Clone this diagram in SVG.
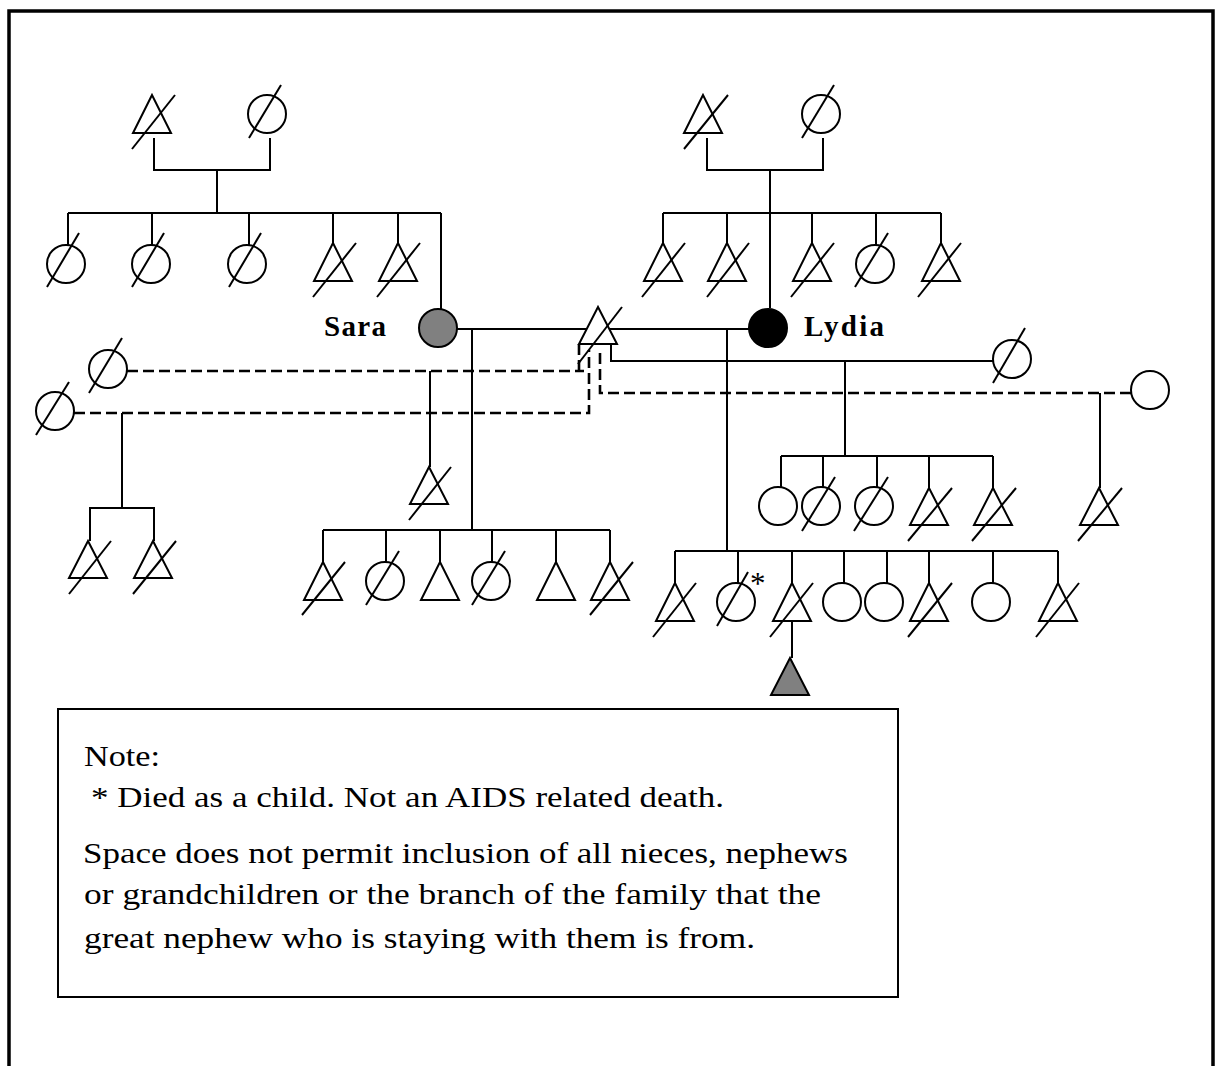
<svg xmlns="http://www.w3.org/2000/svg" width="1222" height="1066" viewBox="0 0 1222 1066">
<style>
.n{fill:#fff;stroke:#000;stroke-width:2}
.gray{fill:#808080}
.blk{fill:#000}
.s{stroke:#000;stroke-width:2;fill:none}
.c{stroke:#000;stroke-width:2;fill:none}
.dash{stroke:#000;stroke-width:2.6;fill:none;stroke-dasharray:11 5}
.t{font-family:"Liberation Serif","Times New Roman",serif;fill:#000}
.b{font-weight:bold;font-size:29px}
.note{font-size:29px}
</style>
<rect x="0" y="0" width="1222" height="1066" fill="#fff"/>
<path d="M9,1066 V11 H1213 V1066" fill="none" stroke="#000" stroke-width="3.5"/>

<g id="connectors">
  <path class="c" d="M154,138 V170 H270 V138 M217,170 V213 M68,213 H441 M68,213 V245 M152,213 V245 M249,213 V245 M333,213 V243 M398,213 V243 M441,213 V309"/>
  <path class="c" d="M707,138 V170 H823 V138 M770,170 V308 M663,213 H941 M663,213 V243 M727,213 V243 M812,213 V243 M876,213 V245 M941,213 V243"/>
  <path class="c" d="M457,329 H587 M609,329 H749"/>
  <path class="c" d="M472,329 V530 M323,530 H610 M323,530 V562 M386,530 V562 M440,530 V562 M492,530 V562 M556,530 V562 M610,530 V562"/>
  <path class="c" d="M727,329 V551 M675,551 H1058 M675,551 V583 M738,551 V583 M792,551 V583 M844,551 V583 M887,551 V583 M929,551 V583 M993,551 V583 M1058,551 V583"/>
  <path class="c" d="M792,612 V658"/>
  <path class="c" d="M611,344 V361 H993 M845,361 V456 M781,456 H993 M781,456 V488 M823,456 V488 M877,456 V488 M929,456 V488 M993,456 V488"/>
  <path class="c" d="M1100,393 V488"/>
  <path class="c" d="M430,371 V467"/>
  <path class="c" d="M122,413 V508 M90,541 V508 H154 V541"/>
  <path class="dash" d="M1131,393 H600 V350"/>
  <path class="dash" d="M127,371 H584 M579,371 V341"/>
  <path class="dash" d="M74,413 H589 V350"/>
</g>

<g id="gp-left-m"><polygon class="n" points="152,95 133,133 171,133"/><line class="s" x1="132" y1="149" x2="175" y2="95"/></g>
<g id="gp-left-f"><circle class="n" cx="267" cy="114" r="19"/><line class="s" x1="249" y1="138" x2="281" y2="85"/></g>
<g id="sib-l1"><circle class="n" cx="66" cy="264" r="19"/><line class="s" x1="47" y1="287" x2="79" y2="233"/></g>
<g id="sib-l2"><circle class="n" cx="151" cy="264" r="19"/><line class="s" x1="132" y1="287" x2="164" y2="233"/></g>
<g id="sib-l3"><circle class="n" cx="247" cy="264" r="19"/><line class="s" x1="229" y1="287" x2="261" y2="233"/></g>
<g id="sib-l4"><polygon class="n" points="333,243 314,281 352,281"/><line class="s" x1="313" y1="297" x2="356" y2="243"/></g>
<g id="sib-l5"><polygon class="n" points="398,243 379,281 417,281"/><line class="s" x1="377" y1="297" x2="420" y2="243"/></g>

<g id="gp-right-m"><polygon class="n" points="703,95 684,133 722,133"/><line class="s" x1="684" y1="149" x2="728" y2="95"/></g>
<g id="gp-right-f"><circle class="n" cx="821" cy="114" r="19"/><line class="s" x1="802" y1="138" x2="834" y2="85"/></g>
<g id="sib-r1"><polygon class="n" points="663,243 644,281 682,281"/><line class="s" x1="642" y1="297" x2="685" y2="243"/></g>
<g id="sib-r2"><polygon class="n" points="727,243 708,281 746,281"/><line class="s" x1="707" y1="297" x2="749" y2="243"/></g>
<g id="sib-r3"><polygon class="n" points="812,243 793,281 831,281"/><line class="s" x1="791" y1="297" x2="834" y2="243"/></g>
<g id="sib-r4"><circle class="n" cx="875" cy="264" r="19"/><line class="s" x1="855" y1="287" x2="888" y2="233"/></g>
<g id="sib-r5"><polygon class="n" points="941,243 922,281 960,281"/><line class="s" x1="918" y1="297" x2="961" y2="243"/></g>

<g id="sara"><ellipse class="n gray" cx="438" cy="328" rx="19" ry="19"/><text class="t b" x="324" y="336" textLength="62">Sara</text></g>
<g id="lydia"><ellipse class="n blk" cx="768" cy="328" rx="19" ry="19"/><text class="t b" x="804" y="336" textLength="80">Lydia</text></g>
<g id="husband"><polygon class="n" points="598,307 579,344 617,344"/><line class="s" x1="578" y1="364" x2="622" y2="307"/></g>

<g id="wife-ul"><circle class="n" cx="108" cy="369" r="19"/><line class="s" x1="89" y1="393" x2="122" y2="338"/></g>
<g id="wife-ll"><circle class="n" cx="55" cy="411" r="19"/><line class="s" x1="36" y1="435" x2="69" y2="382"/></g>
<g id="wife-r1"><circle class="n" cx="1012" cy="359" r="19"/><line class="s" x1="993" y1="383" x2="1025" y2="328"/></g>
<g id="wife-r2"><circle class="n" cx="1150" cy="390" r="19"/></g>

<g id="ll-c1"><polygon class="n" points="88,541 69,578 107,578"/><line class="s" x1="69" y1="594" x2="111" y2="541"/></g>
<g id="ll-c2"><polygon class="n" points="153,541 134,578 172,578"/><line class="s" x1="133" y1="594" x2="176" y2="541"/></g>
<g id="ul-c1"><polygon class="n" points="429,467 410,504 448,504"/><line class="s" x1="409" y1="520" x2="451" y2="467"/></g>

<g id="sara-c1"><polygon class="n" points="323,562 304,600 342,600"/><line class="s" x1="302" y1="615" x2="345" y2="562"/></g>
<g id="sara-c2"><circle class="n" cx="385" cy="581" r="19"/><line class="s" x1="366" y1="605" x2="399" y2="551"/></g>
<g id="sara-c3"><polygon class="n" points="440,562 421,600 459,600"/></g>
<g id="sara-c4"><circle class="n" cx="491" cy="581" r="19"/><line class="s" x1="472" y1="605" x2="505" y2="551"/></g>
<g id="sara-c5"><polygon class="n" points="556,562 537,600 575,600"/></g>
<g id="sara-c6"><polygon class="n" points="610,562 591,600 629,600"/><line class="s" x1="590" y1="615" x2="633" y2="562"/></g>

<g id="w1-c1"><circle class="n" cx="778" cy="506" r="19"/></g>
<g id="w1-c2"><circle class="n" cx="821" cy="506" r="19"/><line class="s" x1="802" y1="531" x2="835" y2="477"/></g>
<g id="w1-c3"><circle class="n" cx="874" cy="506" r="19"/><line class="s" x1="854" y1="531" x2="888" y2="477"/></g>
<g id="w1-c4"><polygon class="n" points="929,488 910,525 948,525"/><line class="s" x1="908" y1="541" x2="952" y2="488"/></g>
<g id="w1-c5"><polygon class="n" points="993,488 974,525 1012,525"/><line class="s" x1="972" y1="541" x2="1016" y2="488"/></g>
<g id="w2-c1"><polygon class="n" points="1099,488 1080,525 1118,525"/><line class="s" x1="1078" y1="541" x2="1122" y2="488"/></g>

<g id="ly-c1"><polygon class="n" points="675,583 656,621 694,621"/><line class="s" x1="653" y1="637" x2="696" y2="583"/></g>
<g id="ly-c2"><circle class="n" cx="736" cy="602" r="19"/><line class="s" x1="717" y1="626" x2="748" y2="572"/><text class="t" x="750" y="594" font-size="31">*</text></g>
<g id="ly-c3"><polygon class="n" points="792,583 773,621 811,621"/><line class="s" x1="770" y1="637" x2="813" y2="583"/></g>
<g id="ly-c4"><circle class="n" cx="842" cy="602" r="19"/></g>
<g id="ly-c5"><circle class="n" cx="884" cy="602" r="19"/></g>
<g id="ly-c6"><polygon class="n" points="929,583 910,621 948,621"/><line class="s" x1="908" y1="637" x2="952" y2="583"/></g>
<g id="ly-c7"><circle class="n" cx="991" cy="602" r="19"/></g>
<g id="ly-c8"><polygon class="n" points="1058,583 1039,621 1077,621"/><line class="s" x1="1036" y1="637" x2="1079" y2="583"/></g>
<g id="great-nephew"><polygon class="n gray" points="790,658 771,695 809,695"/></g>

<g id="note">
  <rect x="58" y="709" width="840" height="288" fill="#fff" stroke="#000" stroke-width="2"/>
  <text class="t note" x="84" y="766" textLength="76" lengthAdjust="spacingAndGlyphs">Note:</text>
  <text class="t note" x="91" y="807" textLength="633" lengthAdjust="spacingAndGlyphs">* Died as a child. Not an AIDS related death.</text>
  <text class="t note" x="83" y="863" textLength="765" lengthAdjust="spacingAndGlyphs">Space does not permit inclusion of all nieces, nephews</text>
  <text class="t note" x="84" y="904" textLength="737" lengthAdjust="spacingAndGlyphs">or grandchildren or the branch of the family that the</text>
  <text class="t note" x="84" y="948" textLength="671" lengthAdjust="spacingAndGlyphs">great nephew who is staying with them is from.</text>
</g>
</svg>
